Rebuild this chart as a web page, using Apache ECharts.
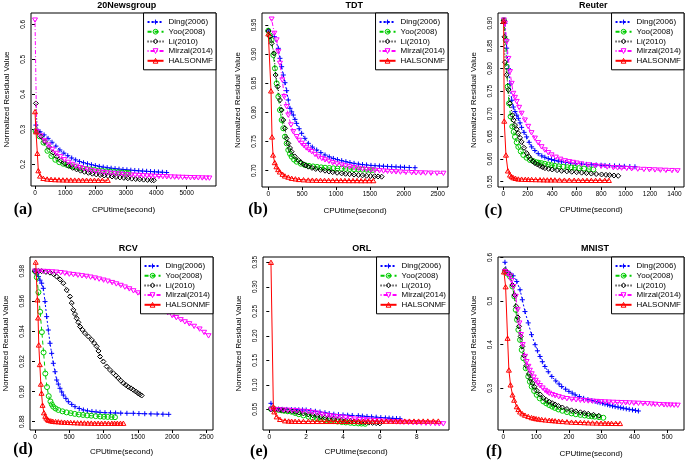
<!DOCTYPE html>
<html><head><meta charset="utf-8">
<script src="https://cdn.jsdelivr.net/npm/echarts@6/dist/echarts.min.js"></script>
<style>html,body{margin:0;padding:0;background:#fff}#c{width:685px;height:460px}</style>
</head><body><div id="c"></div><script>
// ---------- series names ----------
const seriesNames = ['Ding(2006)','Yoo(2008)','Li(2010)','Mirzal(2014)','HALSONMF'];

// ---------- (a) 20Newsgroup ----------
const newsDing = [[30,0.312],[165,0.293],[300,0.284],[430,0.274],[560,0.263],[690,0.252],[820,0.241],[950,0.232],[1080,0.2245],[1210,0.218],[1340,0.2125],[1470,0.2078],[1600,0.2045],[1730,0.2015],[1860,0.1988],[1990,0.1962],[2120,0.194],[2250,0.192],[2380,0.1903],[2510,0.1888],[2640,0.1875],[2770,0.1863],[2900,0.1852],[3030,0.1842],[3160,0.1832],[3290,0.1823],[3420,0.1815],[3550,0.1807],[3680,0.18],[3810,0.1793],[3940,0.1786],[4070,0.178],[4200,0.1773],[4340,0.1765]];
const newsYoo = [[20,0.295],[150,0.280],[280,0.262],[410,0.2385],[540,0.2235],[670,0.213],[800,0.206],[930,0.2015],[1060,0.1978],[1190,0.1948],[1320,0.1922],[1450,0.19],[1580,0.1882],[1710,0.1867],[1840,0.1853],[1970,0.1838],[2100,0.1822],[2230,0.1811],[2360,0.18],[2490,0.179],[2620,0.1781],[2750,0.1772],[2880,0.1763],[3010,0.1755],[3080,0.175]];
const newsLi = [[30,0.374],[77,0.293],[200,0.279],[330,0.264],[460,0.2495],[590,0.2335],[720,0.2215],[850,0.2105],[980,0.202],[1110,0.1955],[1240,0.19],[1370,0.1855],[1500,0.1818],[1630,0.1786],[1760,0.1757],[1890,0.1732],[2020,0.1711],[2150,0.1695],[2280,0.168],[2410,0.1666],[2540,0.1652],[2670,0.1638],[2800,0.1625],[2930,0.1613],[3060,0.1601],[3190,0.159],[3320,0.158],[3450,0.1571],[3580,0.1562],[3710,0.1555],[3840,0.1548],[3920,0.1543]];
const newsMirzal = [[0,0.612],[55,0.293],[185,0.281],[315,0.267],[445,0.2545],[575,0.2425],[705,0.231],[835,0.2215],[965,0.213],[1095,0.2055],[1225,0.1995],[1355,0.1945],[1485,0.1905],[1615,0.187],[1745,0.184],[1875,0.1815],[2005,0.1795],[2135,0.1778],[2265,0.1763],[2395,0.175],[2525,0.1738],[2655,0.1727],[2785,0.1717],[2915,0.1708],[3045,0.17],[3175,0.1692],[3305,0.1685],[3435,0.1678],[3565,0.1672],[3695,0.1666],[3825,0.166],[3955,0.1655],[4085,0.165],[4215,0.1645],[4345,0.1641],[4475,0.1637],[4605,0.1633],[4735,0.1629],[4865,0.1625],[4995,0.1622],[5125,0.1618],[5255,0.1615],[5385,0.1612],[5515,0.1609],[5645,0.1606],[5750,0.1604]];
const newsHals = [[0,0.3505],[33,0.293],[77,0.2314],[110,0.1819],[165,0.1667],[275,0.160],[400,0.158],[530,0.157],[660,0.1563],[790,0.1558],[920,0.1555],[1050,0.1552],[1180,0.155],[1310,0.1549],[1440,0.1548],[1570,0.1547],[1700,0.1546],[1830,0.1545],[1960,0.1545],[2090,0.1544],[2220,0.1544],[2400,0.1543]];

// ---------- (b) TDT ----------
const tdtDing = [[0,0.9397],[89,0.930],[148,0.910],[172,0.8928],[197,0.8785],[221,0.8642],[246,0.851],[271,0.8373],[295,0.8213],[320,0.807],[345,0.801],[369,0.7955],[394,0.788],[418,0.7812],[455,0.772],[492,0.7641],[540,0.7555],[591,0.7469],[650,0.7405],[714,0.7355],[775,0.731],[837,0.7269],[900,0.7237],[960,0.721],[1020,0.719],[1083,0.7172],[1145,0.7155],[1205,0.714],[1265,0.7126],[1329,0.7114],[1390,0.7105],[1450,0.7098],[1515,0.7091],[1575,0.7086],[1640,0.7081],[1700,0.7077],[1760,0.7073],[1821,0.7069],[1885,0.7065],[1950,0.7062],[2010,0.7058],[2080,0.7055],[2165,0.7051]];
const tdtYoo = [[0,0.9403],[25,0.932],[49,0.9243],[74,0.8985],[98,0.8756],[123,0.8499],[148,0.827],[172,0.8041],[197,0.787],[221,0.7727],[246,0.7584],[271,0.7469],[295,0.7355],[320,0.729],[344,0.724],[380,0.719],[418,0.7154],[480,0.712],[541,0.7097],[600,0.7083],[660,0.7073],[720,0.7065],[780,0.7057],[837,0.7051],[900,0.7046],[960,0.7041],[1020,0.7037],[1083,0.7034],[1140,0.7031],[1200,0.7028],[1265,0.7024],[1329,0.7021],[1390,0.7018],[1450,0.7015],[1500,0.7013],[1540,0.7011]];
const tdtLi = [[0,0.9397],[25,0.93],[49,0.9185],[84,0.9014],[108,0.8642],[138,0.8442],[172,0.8213],[197,0.8041],[221,0.787],[246,0.7727],[271,0.7555],[295,0.7469],[320,0.739],[344,0.7326],[390,0.7245],[443,0.7183],[480,0.7145],[520,0.711],[555,0.7088],[591,0.7069],[645,0.7048],[700,0.703],[770,0.7014],[837,0.700],[895,0.6987],[950,0.6975],[1015,0.6964],[1083,0.6954],[1140,0.6947],[1200,0.694],[1265,0.6933],[1329,0.6926],[1390,0.692],[1450,0.6914],[1510,0.6909],[1570,0.6905],[1620,0.6901],[1673,0.6897]];
const tdtMirzal = [[49,0.960],[89,0.9357],[123,0.9243],[148,0.9042],[172,0.8842],[207,0.8556],[236,0.827],[271,0.8098],[295,0.7955],[335,0.7784],[369,0.7669],[418,0.7584],[455,0.752],[492,0.7469],[525,0.743],[560,0.739],[600,0.7355],[640,0.7326],[690,0.7278],[740,0.7235],[790,0.7208],[837,0.7185],[895,0.716],[950,0.7135],[1015,0.7115],[1083,0.7097],[1140,0.708],[1200,0.7065],[1265,0.7052],[1329,0.704],[1390,0.703],[1450,0.702],[1515,0.7012],[1575,0.7006],[1640,0.6999],[1700,0.6993],[1760,0.6988],[1821,0.6983],[1885,0.6979],[1950,0.6975],[2030,0.697],[2116,0.6966],[2180,0.6963],[2250,0.6961],[2320,0.6959],[2400,0.6957],[2490,0.6955],[2584,0.6954]];
const tdtHals = [[0,0.935],[40,0.837],[55,0.758],[70,0.727],[95,0.714],[120,0.707],[145,0.702],[170,0.698],[210,0.694],[245,0.691],[295,0.689],[345,0.687],[400,0.686],[450,0.685],[520,0.6845],[590,0.684],[650,0.6838],[710,0.6836],[770,0.6835],[830,0.6834],[890,0.6833],[950,0.6833],[1010,0.6832],[1070,0.6832],[1130,0.6832],[1190,0.6831],[1250,0.6831],[1310,0.6831],[1370,0.683],[1430,0.683],[1490,0.683],[1550,0.683]];

// ---------- (c) Reuter ----------
const reuDing = [[5,0.906],[14,0.90],[28,0.845],[42,0.80],[55,0.766],[69,0.73],[82,0.715],[96,0.705],[110,0.697],[123,0.69],[137,0.68],[150,0.67],[170,0.659],[191,0.649],[212,0.637],[232,0.627],[258,0.619],[286,0.612],[315,0.607],[340,0.604],[368,0.601],[395,0.599],[420,0.597],[450,0.5955],[477,0.594],[510,0.5925],[550,0.591],[590,0.5898],[641,0.589],[680,0.5883],[720,0.5875],[760,0.587],[800,0.5865],[832,0.586],[870,0.5855],[910,0.585],[950,0.5845],[990,0.584],[1035,0.5835],[1077,0.583]];
const reuYoo = [[5,0.907],[20,0.863],[28,0.804],[36,0.76],[47,0.723],[60,0.694],[74,0.672],[85,0.66],[96,0.649],[110,0.637],[123,0.627],[143,0.617],[164,0.609],[190,0.603],[218,0.598],[245,0.5955],[270,0.593],[290,0.592],[313,0.591],[340,0.5895],[370,0.588],[395,0.5865],[422,0.585],[455,0.584],[490,0.583],[525,0.582],[555,0.5815],[586,0.581],[620,0.58],[660,0.579],[700,0.578],[736,0.577]];
const reuLi = [[5,0.906],[10,0.87],[14,0.814],[28,0.786],[42,0.753],[55,0.723],[74,0.697],[85,0.686],[96,0.675],[110,0.666],[123,0.657],[137,0.647],[150,0.638],[170,0.625],[191,0.613],[208,0.606],[225,0.600],[242,0.595],[259,0.591],[280,0.588],[300,0.585],[320,0.5825],[341,0.580],[370,0.5785],[400,0.577],[440,0.5755],[477,0.574],[520,0.573],[560,0.572],[600,0.571],[641,0.570],[680,0.569],[720,0.568],[760,0.567],[804,0.566],[840,0.5652],[870,0.5645],[905,0.5637],[940,0.563]];
const reuMirzal = [[5,0.907],[14,0.90],[28,0.859],[42,0.822],[55,0.793],[69,0.767],[82,0.745],[96,0.736],[110,0.727],[130,0.714],[150,0.701],[177,0.686],[204,0.672],[231,0.658],[259,0.646],[286,0.636],[313,0.627],[340,0.62],[368,0.614],[395,0.609],[430,0.604],[467,0.5995],[504,0.596],[540,0.594],[570,0.5925],[600,0.591],[640,0.589],[695,0.587],[750,0.5855],[800,0.584],[850,0.5825],[900,0.581],[935,0.5805],[968,0.580],[1010,0.5792],[1050,0.5785],[1100,0.5778],[1150,0.577],[1195,0.5765],[1240,0.576],[1285,0.5755],[1330,0.575],[1380,0.5745],[1426,0.574]];
const reuHals = [[3,0.905],[8,0.684],[22,0.609],[38,0.574],[55,0.565],[68,0.5615],[82,0.559],[100,0.5575],[123,0.556],[150,0.5557],[180,0.5553],[205,0.5551],[232,0.555],[265,0.5547],[300,0.5545],[330,0.5542],[360,0.554],[390,0.554],[422,0.554],[460,0.5537],[500,0.5535],[540,0.5534],[580,0.5533],[615,0.5531],[650,0.553],[685,0.553],[720,0.553],[755,0.553],[790,0.553],[830,0.553],[864,0.553]];

// ---------- (d) RCV ----------
const rcvDing = [[0,0.98],[25,0.978],[50,0.9764],[73,0.974],[97,0.972],[121,0.9686],[146,0.9598],[170,0.9498],[194,0.9409],[219,0.9321],[243,0.9254],[267,0.9188],[292,0.9132],[316,0.9077],[340,0.905],[364,0.9022],[389,0.8998],[413,0.8977],[450,0.8955],[486,0.8933],[535,0.8915],[583,0.89],[645,0.8888],[705,0.8878],[765,0.8872],[830,0.8868],[890,0.8865],[948,0.8862],[1020,0.886],[1100,0.8859],[1175,0.8858],[1250,0.8857],[1340,0.8856],[1433,0.8856],[1515,0.8854],[1600,0.8853],[1690,0.8852],[1780,0.8851],[1865,0.885],[1950,0.8849]];
const rcvYoo = [[0,0.98],[25,0.976],[50,0.966],[75,0.953],[100,0.9395],[125,0.926],[150,0.912],[175,0.903],[200,0.897],[225,0.8935],[245,0.8915],[265,0.890],[300,0.8888],[340,0.8878],[400,0.8869],[460,0.8862],[520,0.8857],[580,0.8852],[640,0.8848],[700,0.8845],[760,0.8842],[820,0.884],[885,0.8837],[950,0.8835],[1005,0.8833],[1060,0.8832],[1115,0.8831],[1166,0.883]];
const rcvLi = [[0,0.98],[50,0.98],[97,0.98],[160,0.9795],[219,0.979],[270,0.978],[316,0.9764],[365,0.9745],[413,0.972],[462,0.9675],[510,0.9631],[535,0.9588],[559,0.9543],[583,0.9515],[607,0.9487],[632,0.946],[656,0.9432],[692,0.941],[729,0.9388],[778,0.9366],[826,0.9344],[863,0.9322],[899,0.930],[925,0.927],[948,0.9233],[996,0.92],[1045,0.9167],[1093,0.9144],[1142,0.9122],[1180,0.9106],[1215,0.909],[1250,0.9073],[1288,0.9056],[1325,0.9044],[1360,0.9032],[1398,0.9022],[1433,0.9012],[1468,0.9001],[1500,0.899],[1530,0.8982],[1555,0.8974]];
const rcvMirzal = [[0,0.98],[60,0.9799],[125,0.9798],[185,0.9797],[250,0.9795],[310,0.9793],[375,0.979],[435,0.9786],[500,0.978],[560,0.9777],[625,0.9773],[685,0.9769],[750,0.9765],[810,0.976],[875,0.9754],[935,0.9747],[1000,0.974],[1060,0.9733],[1125,0.9724],[1185,0.9715],[1250,0.9705],[1310,0.9694],[1375,0.9682],[1435,0.9669],[1500,0.9655],[1560,0.9638],[1625,0.962],[1685,0.96],[1750,0.958],[1810,0.9562],[1875,0.9543],[1935,0.9524],[2000,0.9505],[2060,0.9491],[2125,0.9477],[2185,0.9463],[2250,0.945],[2320,0.9433],[2400,0.9415],[2465,0.9393],[2530,0.937]];
const rcvHals = [[10,0.986],[35,0.961],[45,0.949],[55,0.931],[70,0.918],[85,0.905],[95,0.899],[110,0.891],[130,0.886],[150,0.8837],[165,0.8825],[185,0.8815],[200,0.881],[230,0.8806],[260,0.8803],[300,0.8801],[340,0.880],[385,0.8798],[430,0.8797],[475,0.8796],[520,0.8795],[570,0.8794],[620,0.8793],[670,0.8792],[720,0.8792],[770,0.8791],[820,0.8791],[870,0.879],[920,0.879],[970,0.879],[1020,0.879],[1070,0.879],[1120,0.879],[1160,0.879],[1200,0.879],[1245,0.879],[1288,0.879]];

// ---------- (e) ORL ----------
const orlDing = [[0.09,0.0622],[0.3,0.0507],[0.5,0.0503],[0.7,0.050],[0.95,0.0498],[1.2,0.0495],[1.4,0.0492],[1.6,0.049],[1.8,0.0489],[2.0,0.0487],[2.25,0.0475],[2.5,0.046],[2.75,0.0445],[3.02,0.0431],[3.25,0.0415],[3.5,0.040],[3.75,0.0392],[4.0,0.0385],[4.25,0.038],[4.5,0.0375],[4.83,0.037],[5.05,0.0362],[5.3,0.0355],[5.55,0.0347],[5.8,0.034],[6.05,0.0332],[6.3,0.0325],[6.5,0.032],[6.7,0.0315],[6.9,0.0312],[7.09,0.0309]];
const orlYoo = [[0.09,0.0507],[0.3,0.0499],[0.5,0.049],[0.65,0.048],[0.8,0.047],[1.0,0.046],[1.21,0.045],[1.4,0.0425],[1.6,0.040],[1.85,0.0375],[2.12,0.035],[2.35,0.033],[2.6,0.031],[2.8,0.0295],[3.02,0.0281],[3.25,0.027],[3.5,0.026],[3.7,0.025],[3.93,0.024],[4.15,0.0232],[4.4,0.0225],[4.6,0.0219],[4.83,0.0213],[5.0,0.0209],[5.2,0.0205]];
const orlLi = [[0.09,0.050],[0.3,0.0498],[0.5,0.0495],[0.65,0.0488],[0.8,0.048],[1.0,0.0473],[1.21,0.0466],[1.4,0.045],[1.6,0.0435],[1.85,0.0416],[2.12,0.0398],[2.35,0.0381],[2.6,0.0365],[2.8,0.035],[3.02,0.0336],[3.25,0.032],[3.5,0.0305],[3.7,0.0293],[3.93,0.0281],[4.15,0.027],[4.4,0.026],[4.6,0.0253],[4.83,0.0247],[5.0,0.0241],[5.2,0.0235],[5.4,0.0229],[5.6,0.0223],[5.8,0.0218],[6.0,0.0213]];
const orlMirzal = [[0.1,0.050],[0.3,0.0495],[0.5,0.049],[0.75,0.0485],[1.0,0.048],[1.25,0.0475],[1.5,0.047],[1.8,0.046],[2.12,0.045],[2.35,0.0435],[2.6,0.042],[2.85,0.0398],[3.1,0.0375],[3.3,0.0365],[3.5,0.0355],[3.7,0.0348],[3.93,0.034],[4.15,0.0325],[4.4,0.031],[4.65,0.03],[4.9,0.029],[5.1,0.0285],[5.3,0.028],[5.5,0.0275],[5.74,0.027],[5.95,0.0264],[6.2,0.0258],[6.45,0.0251],[6.7,0.0245],[6.9,0.0241],[7.1,0.0238],[7.3,0.0234],[7.55,0.0231],[7.8,0.0227],[8.0,0.0224],[8.25,0.022],[8.5,0.0216],[8.75,0.0213],[9.0,0.021],[9.22,0.0206],[9.44,0.0203]];
const orlHals = [[0.09,0.35],[0.22,0.0553],[0.27,0.045],[0.4,0.0349],[0.58,0.0295],[0.85,0.0267],[1.05,0.0261],[1.21,0.0258],[1.4,0.0256],[1.6,0.0255],[1.85,0.0254],[2.12,0.0254],[2.35,0.0254],[2.6,0.0254],[2.85,0.0254],[3.1,0.0254],[3.35,0.0254],[3.6,0.0254],[3.85,0.0254],[4.1,0.0255],[4.35,0.0255],[4.6,0.0256],[4.85,0.0256],[5.1,0.0257],[5.35,0.0257],[5.6,0.0258],[5.85,0.0258],[6.1,0.0258],[6.35,0.0259],[6.6,0.0259],[6.85,0.0259],[7.1,0.026],[7.35,0.026],[7.6,0.026],[7.85,0.026],[8.1,0.026],[8.35,0.0261],[8.6,0.0261],[8.9,0.0261],[9.17,0.0261]];

// ---------- (f) MNIST ----------
const mniDing = [[5,0.589],[10,0.5675],[20,0.564],[30,0.558],[41,0.545],[51,0.526],[58,0.503],[66,0.476],[76,0.450],[86,0.423],[97,0.400],[104,0.386],[112,0.373],[119,0.361],[127,0.350],[137,0.338],[148,0.327],[160,0.317],[170,0.310],[178,0.304],[190,0.298],[200,0.293],[210,0.289],[219,0.285],[232,0.281],[245,0.277],[258,0.2742],[270,0.272],[280,0.270],[288,0.2685],[295,0.267],[303,0.2655],[310,0.264],[318,0.2625],[325,0.261],[333,0.2595],[341,0.258],[350,0.2568],[358,0.2555],[366,0.2545],[375,0.253],[384,0.2518],[394,0.2505],[403,0.2492],[412,0.248]];
const mniYoo = [[5,0.5675],[12,0.563],[20.5,0.556],[27.6,0.5335],[33.7,0.5106],[37.8,0.480],[41.8,0.457],[45.9,0.434],[51,0.411],[56,0.388],[61,0.369],[68.3,0.346],[76,0.327],[81,0.315],[86.5,0.304],[94,0.294],[101.8,0.285],[111,0.277],[122,0.270],[131,0.2655],[140,0.2615],[149,0.258],[157.6,0.255],[168,0.2515],[180,0.2485],[194,0.2455],[208,0.2425],[221,0.2405],[235,0.239],[248,0.2377],[260,0.2365],[270,0.2357],[279,0.235],[292,0.2338],[305,0.2325]];
const mniLi = [[5,0.5713],[12,0.566],[20.5,0.56],[27.6,0.537],[33.7,0.514],[38.8,0.488],[43.9,0.463],[47.9,0.442],[53,0.419],[58,0.396],[63.1,0.375],[70.2,0.352],[78.3,0.333],[83,0.322],[88.4,0.312],[95,0.3035],[101.6,0.295],[112,0.286],[122,0.278],[131,0.273],[140,0.269],[149,0.266],[157.6,0.263],[168,0.2595],[180,0.256],[194,0.2525],[208,0.2495],[221,0.2472],[235,0.245],[247,0.2432],[259,0.2415],[275,0.2392],[291,0.237]];
const mniMirzal = [[5,0.5675],[12,0.563],[20.5,0.5576],[25,0.547],[30.7,0.533],[37.8,0.5106],[43.9,0.480],[49,0.4496],[54,0.423],[59.2,0.400],[66.3,0.373],[71,0.361],[76.5,0.350],[81,0.341],[86.7,0.333],[93,0.3255],[98.9,0.318],[105,0.312],[112,0.306],[120,0.3005],[127.5,0.295],[134,0.2915],[140,0.2885],[149,0.2855],[158,0.283],[169,0.2805],[180,0.278],[194,0.2762],[208.5,0.2747],[222,0.2735],[235,0.2725],[247,0.2717],[259,0.2709],[272,0.2703],[285,0.2697],[298,0.2691],[310,0.2686],[322,0.2682],[335,0.2678],[348,0.2674],[361,0.2671],[373,0.2667],[385,0.2663],[398,0.2659],[412,0.2655],[426,0.265],[440,0.2645],[452,0.2638],[463,0.2632],[476,0.2626],[490,0.262],[500,0.2617],[510,0.2615],[521,0.2612],[532,0.261]];
const mniHals = [[2,0.567],[7,0.533],[13,0.415],[17,0.342],[22,0.308],[28,0.285],[33,0.273],[41,0.258],[46,0.2515],[51,0.246],[58,0.2418],[66,0.2385],[76,0.2355],[86,0.233],[93,0.2317],[100,0.2305],[108,0.2295],[117,0.2285],[128,0.2276],[140,0.2268],[149,0.2261],[158,0.2255],[169,0.2247],[180,0.224],[194,0.2232],[208,0.2225],[221,0.2221],[235,0.2218],[247,0.2214],[259,0.221],[272,0.2207],[285,0.2204],[298,0.2202],[310,0.22],[320,0.2198],[330,0.2197],[343,0.2196],[356,0.2195]];

// ---------- tick values ----------
const ticksXa = [0,1000,2000,3000,4000,5000], ticksYa = [0.2,0.3,0.4,0.5,0.6];
const ticksXb = [0,500,1000,1500,2000,2500], ticksYb = [0.70,0.75,0.80,0.85,0.90,0.95];
const ticksXc = [0,200,400,600,800,1000,1200,1400], ticksYc = [0.55,0.60,0.65,0.70,0.75,0.80,0.85,0.90];
const ticksXd = [0,500,1000,1500,2000,2500], ticksYd = [0.88,0.90,0.92,0.94,0.96,0.98];
const ticksXe = [0,2,4,6,8], ticksYe = [0.05,0.10,0.15,0.20,0.25,0.30,0.35];
const ticksXf = [0,100,200,300,400,500], ticksYf = [0.3,0.4,0.5,0.6];

const titles = ['20Newsgroup','TDT','Reuter','RCV','ORL','MNIST'];
const tags = ['(a)','(b)','(c)','(d)','(e)','(f)'];

// ---------- layout / style ----------
const colors = ['#0000FF','#00CC00','#000000','#FF00FF','#FF0000'];
const symbols = ['path://M0,5L10,5M5,0L5,10','circle','diamond','path://M0,0L10,0L5,8.66Z','path://M5,0L10,8.66L0,8.66Z'];
const dashes = [[2,2],[4,3],[1,2],[1,2,4,2],'solid'];
const panels = [
 {data:[newsDing,newsYoo,newsLi,newsMirzal,newsHals], g:[31,13,185,173], x:[-132,5968], y:[0.138,0.6323], tx:ticksXa, ty:ticksYa, dx:0, dy:1, title:[126.7,6], tag:[23,210], xg:20},
 {data:[tdtDing,tdtYoo,tdtLi,tdtMirzal,tdtHals], g:[262,13,186,174], x:[-93,2652], y:[0.672,0.9706], tx:ticksXb, ty:ticksYb, dx:0, dy:2, title:[354.3,6], tag:[258,210], xg:20},
 {data:[reuDing,reuYoo,reuLi,reuMirzal,reuHals], g:[498,13,186,174], x:[-43,1478], y:[0.5383,0.9227], tx:ticksXc, ty:ticksYc, dx:0, dy:2, title:[593.3,5.5], tag:[493.5,211], xg:19},
 {data:[rcvDing,rcvYoo,rcvLi,rcvMirzal,rcvHals], g:[30,257,183,173], x:[-73,2595], y:[0.8745,0.9894], tx:ticksXd, ty:ticksYd, dx:0, dy:2, title:[128.3,248.5], tag:[23,450], xg:18},
 {data:[orlDing,orlYoo,orlLi,orlMirzal,orlHals], g:[263,257,186,173], x:[-0.342,9.75], y:[0.0078,0.3608], tx:ticksXe, ty:ticksYe, dx:0, dy:2, title:[361.7,249], tag:[259,451.5], xg:18},
 {data:[mniDing,mniYoo,mniLi,mniMirzal,mniHals], g:[498,257,186,173], x:[-16.2,551], y:[0.2044,0.6011], tx:ticksXf, ty:ticksYf, dx:0, dy:1, title:[595,248.5], tag:[494,451.5], xg:20}
];
const FONT = 'Liberation Sans, Arial, sans-serif';

const grid = [], xAxis = [], yAxis = [], series = [], legend = [], graphic = [];
panels.forEach((p, i) => {
  grid.push({left:p.g[0], top:p.g[1], width:p.g[2], height:p.g[3], show:true, borderColor:'#000', borderWidth:1, backgroundColor:'transparent', containLabel:false});
  xAxis.push({type:'value', gridIndex:i, min:p.x[0], max:p.x[1],
    axisLine:{show:false}, splitLine:{show:false},
    axisTick:{show:true, inside:false, length:3, customValues:p.tx, lineStyle:{color:'#000', width:1}},
    axisLabel:{customValues:p.tx, formatter:v=>Number(v).toFixed(p.dx), fontSize:6.5, color:'#000', margin:4, fontFamily:FONT},
    name:'CPUtime(second)', nameLocation:'middle', nameGap:p.xg, nameTextStyle:{fontSize:8, color:'#000', fontFamily:FONT}});
  yAxis.push({type:'value', gridIndex:i, min:p.y[0], max:p.y[1],
    axisLine:{show:false}, splitLine:{show:false},
    axisTick:{show:true, inside:false, length:3, customValues:p.ty, lineStyle:{color:'#000', width:1}},
    axisLabel:{customValues:p.ty, formatter:v=>Number(v).toFixed(p.dy), fontSize:6.5, color:'#000', margin:4, rotate:90, fontFamily:FONT},
    name:'Normalized Residual Value', nameLocation:'middle', nameGap:20.5, nameRotate:90, nameTextStyle:{fontSize:8, color:'#000', fontFamily:FONT}});
  p.data.forEach((d, k) => {
    series.push({type:'line', name:seriesNames[k], xAxisIndex:i, yAxisIndex:i, data:d,
      symbol:symbols[k], symbolSize:5, showSymbol:true, showAllSymbol:true, symbolKeepAspect:true,
      lineStyle:{color:colors[k], width:1, type:dashes[k]},
      itemStyle:{color:'rgba(0,0,0,0)', borderColor:colors[k], borderWidth:1},
      emphasis:{disabled:true}, animation:false, z:2+k*0.1});
  });
  legend.push({data:seriesNames, orient:'vertical', right:685-(p.g[0]+p.g[2]), top:p.g[1],
    padding:[5,3,5,3], itemWidth:16, itemHeight:6, itemGap:1.7, backgroundColor:'#fff',
    borderColor:'#000', borderWidth:1, borderRadius:0, selectedMode:false,
    itemStyle:{borderWidth:1},
    textStyle:{fontSize:8, color:'#000', fontFamily:FONT}});
  graphic.push({type:'text', x:p.title[0], y:p.title[1], style:{text:titles[i], textAlign:'center', textVerticalAlign:'middle', font:'bold 9px '+FONT, fill:'#000'}});
  graphic.push({type:'text', x:p.tag[0], y:p.tag[1], style:{text:tags[i], textAlign:'center', textVerticalAlign:'middle', font:'bold 16px Liberation Serif, Times New Roman, serif', fill:'#000'}});
});

const chart = echarts.init(document.getElementById('c'), null, {renderer:'canvas'});
chart.setOption({backgroundColor:'#fff', animation:false, grid, xAxis, yAxis, series, legend, graphic});
</script></body></html>
